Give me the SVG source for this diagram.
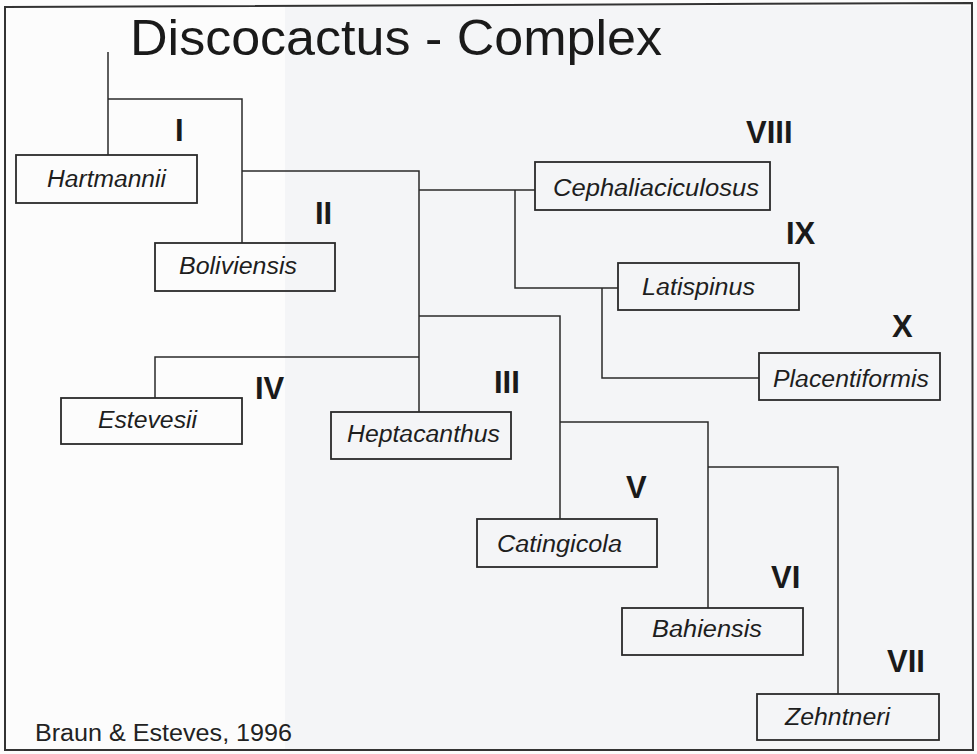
<svg xmlns="http://www.w3.org/2000/svg" width="977" height="754" viewBox="0 0 977 754">
<style>
.box{fill:none;stroke:#2a2a2a;stroke-width:1.8}
.sp{font-family:"Liberation Sans",Arial,sans-serif;font-style:italic;font-size:23.5px;fill:#1e1e1e;text-anchor:start}
.num{font-family:"Liberation Sans",Arial,sans-serif;font-weight:bold;font-size:31px;fill:#1a1a1a}
.ln{fill:none;stroke:#2a2a2a;stroke-width:1.5}
</style>
<rect x="0" y="0" width="977" height="754" fill="#fcfcfc"/>
<rect x="285" y="6" width="688" height="744" fill="#f4f5f7"/>
<path d="M5,7 L972,3 L973,750 L5,750 Z" fill="none" stroke="#333" stroke-width="2"/>
<text x="130" y="55" font-family="Liberation Sans, Arial, sans-serif" font-size="50" fill="#1a1a1a" textLength="532" lengthAdjust="spacingAndGlyphs">Discocactus - Complex</text>
<g id="connectors">
<path class="ln" d="M108,52 V155 M108,99 H242 V243 M242,171 H419 V412 M419,190 H535 M515,190 V288 H618 M602,288 V378 H759 M419,357 H155 V398 M419,316 H560 V519 M560,422 H708 V608 M708,467 H838 V694"/>
</g>
<g id="hartmannii"><rect class="box" x="16" y="155" width="181" height="48"/><text class="sp" x="47" y="187" textLength="119" lengthAdjust="spacingAndGlyphs">Hartmannii</text></g>
<g id="boliviensis"><rect class="box" x="155" y="243" width="180" height="48"/><text class="sp" x="179" y="274" textLength="118" lengthAdjust="spacingAndGlyphs">Boliviensis</text></g>
<g id="estevesii"><rect class="box" x="61" y="398" width="181" height="46"/><text class="sp" x="98" y="428" textLength="99" lengthAdjust="spacingAndGlyphs">Estevesii</text></g>
<g id="heptacanthus"><rect class="box" x="331" y="412" width="180" height="47"/><text class="sp" x="347" y="442" textLength="153" lengthAdjust="spacingAndGlyphs">Heptacanthus</text></g>
<g id="cephaliaciculosus"><rect class="box" x="535" y="162" width="235" height="48"/><text class="sp" x="553" y="196" textLength="206" lengthAdjust="spacingAndGlyphs">Cephaliaciculosus</text></g>
<g id="latispinus"><rect class="box" x="618" y="263" width="181" height="47"/><text class="sp" x="642" y="295" textLength="113" lengthAdjust="spacingAndGlyphs">Latispinus</text></g>
<g id="placentiformis"><rect class="box" x="759" y="353" width="181" height="47"/><text class="sp" x="773" y="387" textLength="156" lengthAdjust="spacingAndGlyphs">Placentiformis</text></g>
<g id="catingicola"><rect class="box" x="477" y="519" width="180" height="48"/><text class="sp" x="497" y="552" textLength="125" lengthAdjust="spacingAndGlyphs">Catingicola</text></g>
<g id="bahiensis"><rect class="box" x="622" y="608" width="181" height="47"/><text class="sp" x="652" y="637" textLength="110" lengthAdjust="spacingAndGlyphs">Bahiensis</text></g>
<g id="zehntneri"><rect class="box" x="757" y="694" width="182" height="46"/><text class="sp" x="785" y="725" textLength="105" lengthAdjust="spacingAndGlyphs">Zehntneri</text></g>
<g id="labels">
<text class="num" x="175" y="141">I</text>
<text class="num" x="315" y="224">II</text>
<text class="num" x="494" y="393">III</text>
<text class="num" x="255" y="399">IV</text>
<text class="num" x="626" y="498">V</text>
<text class="num" x="771" y="588">VI</text>
<text class="num" x="887" y="672">VII</text>
<text class="num" x="746" y="143">VIII</text>
<text class="num" x="786" y="244">IX</text>
<text class="num" x="892" y="337">X</text>
</g>
<text x="35" y="741" font-family="Liberation Sans, Arial, sans-serif" font-size="23" fill="#222" textLength="257" lengthAdjust="spacingAndGlyphs">Braun &amp; Esteves, 1996</text>
</svg>
